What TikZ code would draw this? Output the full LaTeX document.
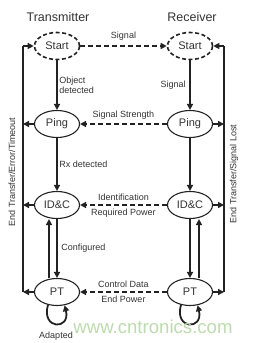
\documentclass[tikz,border=0pt]{standalone}
\usepackage{fontspec}
\setmainfont{Liberation Sans}
\usetikzlibrary{arrows.meta, shapes.geometric}
\definecolor{cink}{HTML}{222222}
\definecolor{ctext}{HTML}{333333}
\definecolor{cmark}{HTML}{BCDBAE}
\tikzset{
  every picture/.style={line width=1.1pt, color=cink},
  state/.style={ellipse, draw=cink, line width=1.1pt, minimum width=45pt, minimum height=27pt, inner sep=0pt, text=ctext, font=\fontsize{11}{12}\selectfont},
  startstate/.style={state, line width=1.6pt, dash pattern=on 4pt off 2.5pt},
  flow/.style={-{Triangle[length=6pt,width=6pt]}, draw=cink, line width=1.8pt},
  msg/.style={flow, dash pattern=on 5pt off 3pt},
  side/.style={draw=cink, line width=1.2pt},
  note/.style={font=\fontsize{9}{10.5}\selectfont, text=ctext, align=left, inner sep=1.5pt},
  title/.style={font=\fontsize{12.5}{14}\selectfont, text=ctext},
}
\begin{document}
\begin{tikzpicture}[x=1pt, y=1pt]
  \useasboundingbox (0,0) rectangle (254,343);
  \node[title] (ttitle) at (58,326) {Transmitter};
  \node[title] (rtitle) at (192,326) {Receiver};
  % transmitter states
  \node[startstate] (tstart) at (57,297) {Start};
  \node[state] (tping) at (57,219) {Ping};
  \node[state] (tidc) at (57,138) {ID\&C};
  \node[state] (tpt) at (57,51) {PT};
  % receiver states
  \node[startstate] (rstart) at (190,297) {Start};
  \node[state] (rping) at (190,219) {Ping};
  \node[state] (ridc) at (190,138) {ID\&C};
  \node[state] (rpt) at (190,51) {PT};
  % down the columns
  \draw[flow] (tstart) -- node[note, right] (lobject) {Object\\detected} (tping);
  \draw[flow] (rstart) -- node[note, left=2pt] (lsignal) {Signal} (rping);
  \draw[flow] (tping) -- node[note, right] (lrx) {Rx detected} (tidc);
  \draw[flow] (rping) -- (ridc);
  \draw[flow] (tidc) -- node[note, right=2pt] (lconf) {Configured} (tpt);
  \draw[flow] ([xshift=-8pt]tpt.north) -- ([xshift=-8pt]tidc.south);
  \draw[flow] (ridc) -- (rpt);
  \draw[flow] ([xshift=9pt]rpt.north) -- ([xshift=9pt]ridc.south);
  % messages between the two sides
  \draw[msg] (tstart) -- node[note, above=3pt] (lsig) {Signal} (rstart);
  \draw[msg] (rping) -- node[note, above=2pt] (lstrength) {Signal Strength} (tping);
  \draw[msg] (ridc) -- node[note, above=2pt] (lident) {Identification} node[note, below=2pt] (lreq) {Required Power} (tidc);
  \draw[msg] (rpt) -- node[note, above=2pt] (lctrl) {Control Data} node[note, below=2pt] (lendp) {End Power} (tpt);
  % back to start
  \coordinate (ltop) at (23,297);
  \coordinate (lbot) at (23,51);
  \coordinate (rtop) at (224,297);
  \coordinate (rbot) at (224,51);
  \draw[side] (lbot) -- (ltop);
  \draw[side, -{Triangle[length=6pt,width=6pt]}] (ltop) -- (tstart);
  \draw[flow] (tping) -- (tping -| ltop);
  \draw[flow] (tidc) -- (tidc -| ltop);
  \draw[flow] (tpt) -- (lbot);
  \draw[side] (rbot) -- (rtop);
  \draw[side, -{Triangle[length=6pt,width=6pt]}] (rtop) -- (rstart);
  \draw[flow] (rping) -- (rping -| rtop);
  \draw[flow] (ridc) -- (ridc -| rtop);
  \draw[flow] (rpt) -- (rbot);
  \node[note, rotate=90] (lend) at (12,171) {End Transfer/Error/Timeout};
  \node[note, rotate=90] (rend) at (234,169) {End Transfer/Signal Lost};
  % power transfer loops
  \draw[flow] (tpt.235) .. controls +(-7,-25) and +(6,-25) .. (tpt.300);
  \draw[flow] (rpt.235) .. controls +(-7,-25) and +(6,-25) .. (rpt.300);
  \node[note] (ladapt) at (56,7) {Adapted};
  \node[text=cmark, font=\fontsize{18.6}{20}\selectfont] (wmark) at (153,16) {www.cntronics.com};
\end{tikzpicture}
\end{document}
